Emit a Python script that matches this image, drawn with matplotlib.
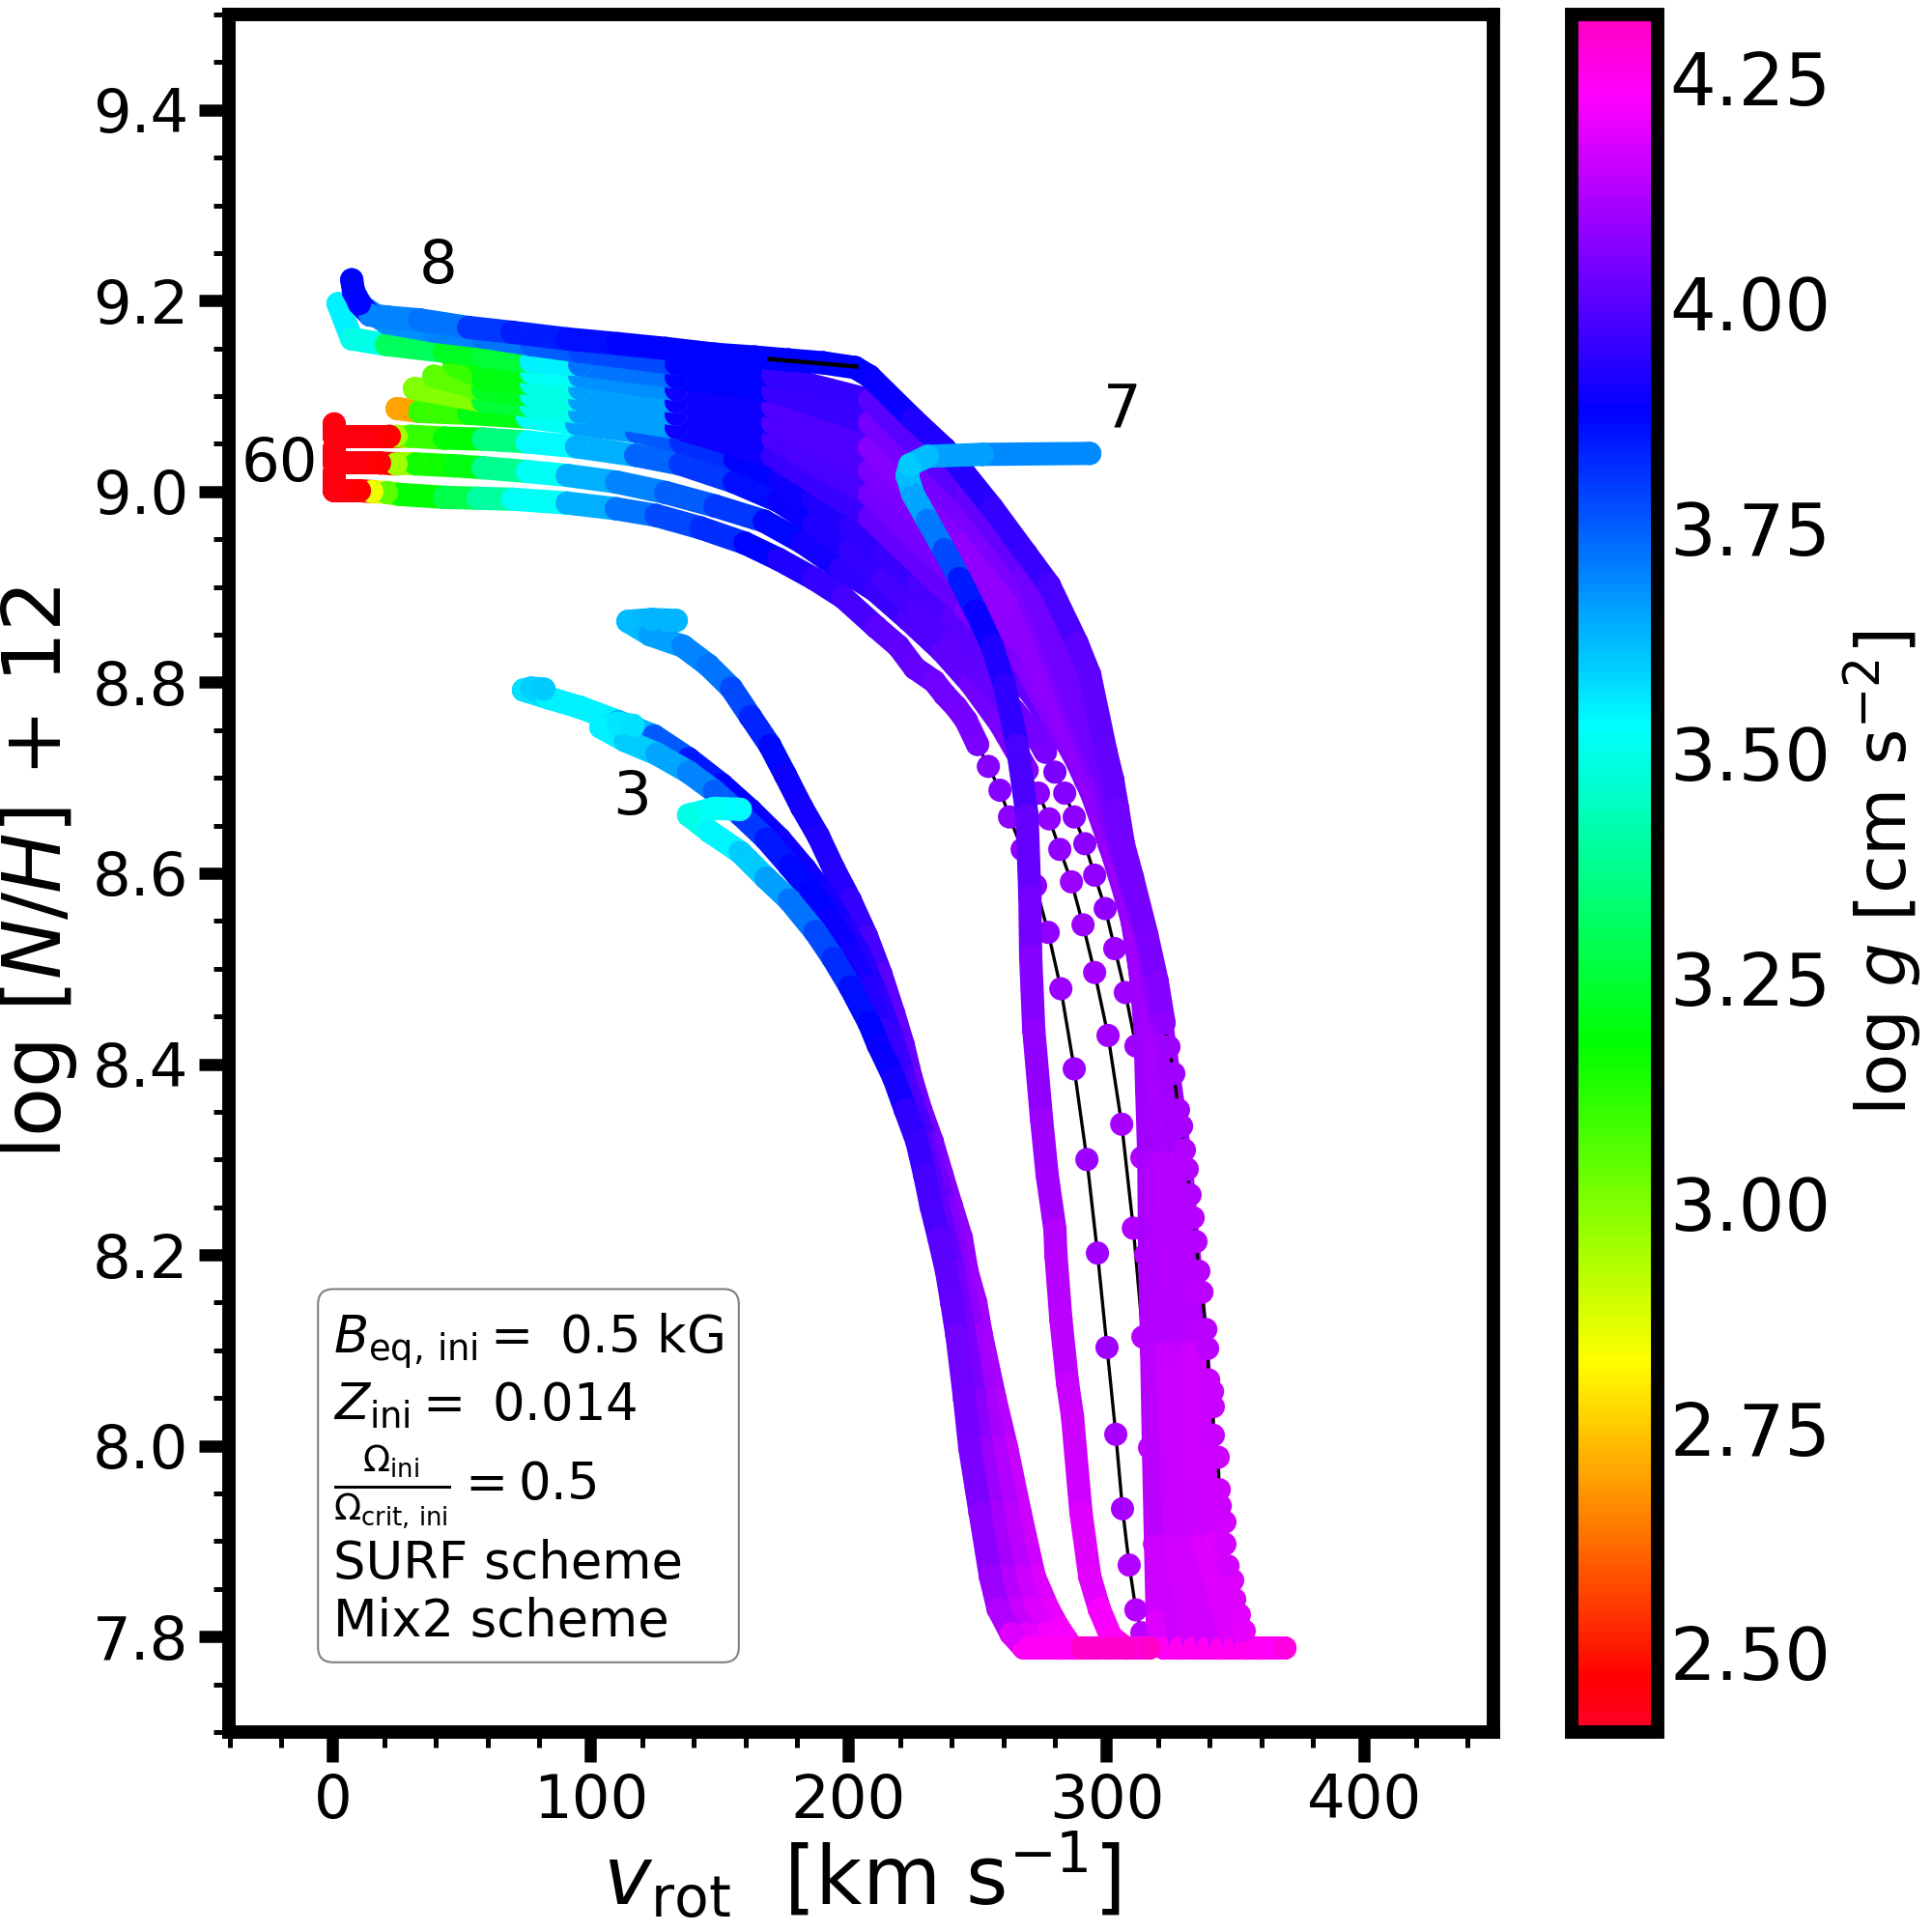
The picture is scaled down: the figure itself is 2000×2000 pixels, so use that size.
import numpy as np
import matplotlib
matplotlib.use("Agg")
import matplotlib.pyplot as plt
from matplotlib.collections import LineCollection
from matplotlib.colors import Normalize
from matplotlib.cm import ScalarMappable
from matplotlib.ticker import MultipleLocator, FormatStrFormatter

# ---- evolutionary tracks: rotation velocity, log[N/H]+12, log g ----
v_d1 = [315.6,313.7,311.4,308.8,306.2,303.6,300.2,296.5,292.4,287.5,282.3,277.4,272.5,267.3,262.4,258.7,254.2,250,245.6,241.8,237.3,233.2,225.7,219.3,210.7,198,186.4,172.9,159.8,142.6,125.4,110,90.9,69.9,56.4,43.3,26.1,20.9,15.2,10.4,0.6,0.6]
n_d1 = [7.788,7.804,7.828,7.875,7.934,8.012,8.103,8.202,8.300,8.395,8.479,8.538,8.587,8.625,8.659,8.687,8.712,8.735,8.760,8.774,8.787,8.801,8.815,8.838,8.858,8.889,8.909,8.929,8.946,8.962,8.975,8.982,8.988,8.992,8.993,8.994,8.997,8.999,9.000,9.001,9.001,9.020]
g_d1 = [4.20,4.14,4.13,4.12,4.11,4.11,4.10,4.10,4.09,4.09,4.09,4.08,4.08,4.08,4.07,4.06,4.06,4.05,4.04,4.04,4.03,4.03,4.02,4.01,4.00,3.97,3.95,3.92,3.88,3.82,3.78,3.72,3.64,3.52,3.40,3.28,3.18,3.05,2.85,2.47,2.45,2.45]

v_d2 = [322.3,320.4,318.6,316.7,314.1,310.4,305.9,300.6,295.4,290.9,286.4,281.9,277.8,273.6,269.2,258.7,247.4,236.2,223.1,210,196.9,181.9,167.3,148.2,129.1,110,90.9,75.5,58.3,47.1,32.1,24.6,18.2,0.6,0.6]
n_d2 = [7.788,7.846,7.897,7.998,8.114,8.228,8.337,8.430,8.496,8.546,8.591,8.625,8.657,8.684,8.708,8.757,8.799,8.833,8.866,8.897,8.919,8.947,8.969,8.985,8.999,9.010,9.017,9.021,9.025,9.027,9.029,9.029,9.030,9.030,9.045]
g_d2 = [4.25,4.20,4.16,4.14,4.13,4.12,4.11,4.10,4.10,4.09,4.09,4.08,4.08,4.07,4.07,4.05,4.03,4.01,3.99,3.96,3.94,3.91,3.87,3.80,3.75,3.70,3.64,3.52,3.38,3.20,3.15,2.95,2.47,2.45,2.45]

v_d3 = [326.1,322.3,319.7,317.5,315.2,313.7,311.4,307.3,303.2,299.5,295.4,291.6,287.5,283.8,280,276.3,272.5,264.3,253,239.9,226.8,213.7,200.6,186.4,172.9,155.7,134.7,117.5,94.6,75.5,58.3,43.3,30.2,24.6,22,0.6,0.6]
n_d3 = [7.788,7.897,7.998,8.099,8.200,8.302,8.419,8.475,8.521,8.563,8.598,8.631,8.659,8.684,8.706,8.727,8.745,8.770,8.803,8.841,8.876,8.909,8.939,8.966,8.990,9.010,9.029,9.038,9.047,9.052,9.055,9.056,9.058,9.058,9.058,9.058,9.071]
g_d3 = [4.27,4.17,4.15,4.14,4.13,4.12,4.10,4.09,4.09,4.08,4.08,4.07,4.07,4.06,4.05,4.05,4.04,4.03,4.02,4.01,3.99,3.97,3.95,3.92,3.89,3.86,3.80,3.74,3.64,3.53,3.35,3.18,3.10,2.95,2.47,2.45,2.45]

v_f1 = [329.8,322.3,319.7,319,318.2,317.5,316.7,316.4,315.6,314.9,313,310,305.6,301.1,297,291.8,286.9,278.3,268.9,253.2,240.1,227,213.9,200.8,186.6,173.1,155.9,135,117.8,94.6,75.5,52.8,33.6,25]
n_f1 = [7.788,7.788,7.816,7.897,7.998,8.099,8.200,8.302,8.372,8.439,8.498,8.549,8.596,8.630,8.668,8.698,8.727,8.762,8.795,8.833,8.868,8.903,8.934,8.963,8.991,9.014,9.034,9.052,9.063,9.071,9.078,9.082,9.084,9.087]
g_f1 = [4.27,4.24,4.18,4.16,4.14,4.13,4.12,4.11,4.10,4.09,4.09,4.08,4.07,4.07,4.06,4.05,4.04,4.03,4.02,4.01,4.0,3.98,3.96,3.94,3.92,3.90,3.88,3.82,3.76,3.66,3.52,3.2,3.1,2.7]

v_f2 = [337.2,328.7,322.7,320.4,318.6,315.9,310.4,301.3,292.4,268.8,245.5,208.1,170.6,133.2,95.8,77,58.3,31.7]
n_f2 = [7.788,7.788,7.897,8.099,8.302,8.439,8.549,8.630,8.698,8.816,8.877,8.973,9.037,9.067,9.083,9.090,9.095,9.108]
g_f2 = [4.28,4.25,4.16,4.14,4.12,4.10,4.09,4.08,4.07,4.06,4.05,4.02,3.96,3.90,3.66,3.5,3.25,3.0]

v_f3 = [342.9,334,326.4,323.4,320.8,317,311.1,302.1,293.5,268.8,245.5,208.1,170.6,133.2,95.8,77,58.3,39.2]
n_f3 = [7.788,7.788,7.897,8.099,8.302,8.439,8.549,8.630,8.698,8.836,8.901,8.997,9.055,9.081,9.096,9.101,9.107,9.121]
g_f3 = [4.28,4.25,4.17,4.15,4.12,4.10,4.09,4.08,4.08,4.07,4.07,4.04,3.98,3.90,3.66,3.5,3.22,3.05]

v_f4 = [348.5,339.2,330.2,326.4,323.1,318.2,311.9,302.8,294.6,268.8,245.5,208.1,170.6,133.2,95.8,77,58.3,47.1]
n_f4 = [7.788,7.788,7.897,8.099,8.302,8.439,8.549,8.630,8.698,8.855,8.925,9.022,9.072,9.094,9.108,9.113,9.118,9.133]
g_f4 = [4.28,4.25,4.17,4.15,4.13,4.11,4.10,4.09,4.08,4.08,4.08,4.05,3.99,3.90,3.66,3.5,3.2,3.1]

v_f5 = [354.1,344.5,333.9,329.4,324.9,319.3,312.6,303.6,296.1,268.8,245.5,208.1,170.6,133.2,95.8,77,58.3,54.6]
n_f5 = [7.788,7.788,7.897,8.099,8.302,8.439,8.549,8.630,8.698,8.875,8.948,9.046,9.089,9.107,9.121,9.125,9.130,9.140]
g_f5 = [4.28,4.25,4.17,4.15,4.13,4.11,4.10,4.09,4.07,4.07,4.08,4.06,3.99,3.90,3.68,3.52,3.2,3.15]

v_f6 = [359.7,349.7,337.6,332.4,326.8,320.4,313.3,304.3,298,268.8,245.5,208.1,170.6,133.2,95.8,77,58.3,43.3,20.9,7.4,2.1]
n_f6 = [7.788,7.788,7.897,8.099,8.302,8.439,8.549,8.630,8.698,8.896,8.973,9.072,9.105,9.120,9.133,9.136,9.142,9.147,9.154,9.160,9.197]
g_f6 = [4.28,4.25,4.18,4.16,4.13,4.11,4.09,4.07,4.06,4.05,4.05,4.04,3.96,3.88,3.72,3.55,3.25,3.22,3.3,3.5,3.55]

v_f7 = [365.3,354.2,341,335.4,328.7,321.6,314.1,305.1,299.9,268.8,245.5,208.1,170.6,133.2,95.8,77,58.3,39.6,20.9,11.5,8.1]
n_f7 = [7.788,7.788,7.897,8.099,8.302,8.439,8.549,8.630,8.698,8.915,8.996,9.096,9.122,9.134,9.147,9.154,9.162,9.168,9.177,9.194,9.209]
g_f7 = [4.28,4.25,4.18,4.16,4.13,4.10,4.08,4.05,4.04,4.03,4.02,4.0,3.95,3.88,3.78,3.75,3.72,3.7,3.68,3.7,3.75]

v_f8 = [369.2,359,353.4,351.5,349.7,348.9,347.1,345.9,345.9,344.1,343.7,343.3,341.4,341.4,341.1,339.6,339.2,338.5,337,335.8,334.7,333.6,332.4,331.3,330.2,329.1,327.9,326.1,324.2,322.3,319.7,315.6,310,306.6,304.3,302.4,299.8,293.5,288.6,277.8,268.8,255.7,237.3,225,208.1,202.5,190.1,176.7,163.6,148.2,129.1,110.7,90.9,69.5,52.7,33.6,20.9,14.5,10.4,8.1,7.4]
n_f8 = [7.788,7.788,7.806,7.823,7.839,7.859,7.874,7.897,7.920,7.937,7.954,7.988,8.011,8.041,8.057,8.069,8.102,8.122,8.161,8.183,8.214,8.239,8.263,8.290,8.310,8.335,8.352,8.390,8.418,8.443,8.486,8.536,8.596,8.630,8.668,8.698,8.727,8.808,8.841,8.902,8.935,8.983,9.045,9.076,9.121,9.130,9.135,9.138,9.141,9.144,9.150,9.155,9.160,9.167,9.172,9.180,9.183,9.185,9.197,9.210,9.222]
g_f8 = [4.27,4.24,4.20,4.19,4.18,4.18,4.17,4.17,4.17,4.16,4.16,4.16,4.15,4.15,4.15,4.15,4.14,4.14,4.14,4.13,4.13,4.13,4.12,4.12,4.12,4.11,4.11,4.10,4.09,4.08,4.06,4.05,4.04,4.04,4.03,4.02,4.02,4.01,4.0,3.98,3.96,3.95,3.93,3.92,3.89,3.88,3.88,3.88,3.88,3.88,3.88,3.88,3.86,3.84,3.80,3.72,3.70,3.70,3.88,3.88,3.88]

v_m7 = [316.7,307.4,301.7,297.2,293.5,290.1,286.8,284.9,282.3,280.4,280,277,274.8,271.8,270.6,270.3,269.2,265.4,260.5,255.7,249.3,243,237,230.6,225,222.7,223.8,230.6,251.9,293.5]
n_m7 = [7.788,7.788,7.800,7.829,7.863,7.930,8.031,8.066,8.133,8.200,8.227,8.284,8.343,8.436,8.513,8.575,8.661,8.734,8.797,8.838,8.875,8.909,8.939,8.970,8.997,9.017,9.028,9.037,9.039,9.040]
g_m7 = [4.30,4.27,4.24,4.22,4.19,4.18,4.16,4.15,4.14,4.13,4.12,4.10,4.09,4.08,4.06,4.04,4.02,3.98,3.94,3.92,3.89,3.85,3.78,3.71,3.65,3.62,3.60,3.62,3.66,3.69]

v_l4 = [307.4,286.8,281.5,277.4,272,266.5,261.3,256.8,251.5,249.3,245.9,243.7,239.9,236.2,232.4,228,224.2,221.2,217.5,212.6,207,200.6,194.2,188.3,181.9,175.5,169.5,162,154.6,145.6,135.8,123.1,114.5,123.8,133.2]
n_l4 = [7.788,7.788,7.809,7.829,7.863,7.930,7.998,8.049,8.116,8.150,8.183,8.218,8.251,8.284,8.319,8.352,8.386,8.420,8.453,8.494,8.534,8.572,8.605,8.639,8.669,8.703,8.734,8.764,8.794,8.818,8.838,8.850,8.864,8.866,8.865]
g_l4 = [4.30,4.26,4.22,4.20,4.18,4.16,4.15,4.13,4.11,4.10,4.09,4.08,4.07,4.06,4.05,4.04,4.03,4.02,4.01,4.00,3.97,3.95,3.93,3.92,3.91,3.90,3.87,3.83,3.78,3.72,3.70,3.66,3.62,3.63,3.63]

v_l2 = [301.7,281,276,271,266.5,261.7,256.8,253,248.5,243.3,237.3,230,221.6,216.7,210.7,204.4,198,190.5,183,173.3,162,150.8,138,124.6,110.7,95.8,83.4,74,77,81.9]
n_l2 = [7.788,7.788,7.803,7.829,7.863,7.930,7.998,8.049,8.116,8.183,8.251,8.319,8.386,8.430,8.474,8.514,8.544,8.578,8.605,8.636,8.666,8.693,8.720,8.744,8.759,8.774,8.784,8.792,8.794,8.793]
g_l2 = [4.30,4.25,4.22,4.18,4.16,4.14,4.12,4.11,4.10,4.08,4.06,4.03,3.99,3.96,3.94,3.93,3.92,3.91,3.90,3.90,3.89,3.88,3.85,3.76,3.63,3.55,3.55,3.57,3.59,3.60]

v_l3 = [296,273.6,268.8,263.5,260.5,256,251.5,249,245,240.7,234.7,228.3,219.3,213,207,200.6,193,185.6,177,168,158.3,148,138,125.7,113.4,104,110.7,116.4]
n_l3 = [7.788,7.788,7.803,7.829,7.863,7.930,7.998,8.049,8.116,8.183,8.251,8.319,8.386,8.436,8.481,8.517,8.552,8.580,8.608,8.636,8.661,8.686,8.706,8.725,8.739,8.753,8.757,8.755]
g_l3 = [4.30,4.24,4.20,4.15,4.13,4.11,4.09,4.07,4.05,4.04,4.02,4.0,3.97,3.95,3.93,3.91,3.89,3.88,3.87,3.85,3.80,3.75,3.70,3.65,3.60,3.55,3.56,3.57]

v_t3 = [290.5,268,263,258,255,251,247,245,242,240,238,235,232,229.5,226.5,222,217.5,211.5,208,200.6,194,187,177,168,158,146,138,148,158]
n_t3 = [7.788,7.788,7.803,7.829,7.863,7.930,7.998,8.049,8.116,8.150,8.183,8.218,8.251,8.284,8.319,8.352,8.386,8.420,8.443,8.481,8.511,8.539,8.572,8.595,8.622,8.644,8.661,8.668,8.667]
g_t3 = [4.30,4.24,4.18,4.12,4.09,4.07,4.05,4.04,4.03,4.02,4.01,4.00,3.98,3.97,3.96,3.94,3.91,3.89,3.88,3.86,3.82,3.78,3.72,3.66,3.60,3.54,3.50,3.52,3.53]

v_black = [169.2, 203.0]
n_black = [9.139, 9.131]

mass_labels = ["8", "7", "60", "3"]
mass_label_v = [41, 306, -20.5, 116]
mass_label_n = [9.236, 9.084, 9.028, 8.679]

cbar_ticks = [2.50, 2.75, 3.00, 3.25, 3.50, 3.75, 4.00, 4.25]
info_text = ("$B_{\\rm eq,\\, ini} = $ 0.5 kG\n$Z_{\\rm ini} = $ 0.014\n"
             "$\\frac{\\Omega_{\\rm ini}}{\\Omega_{\\rm crit,\\, ini}} = 0.5$\n"
             "SURF scheme\nMix2 scheme")

# ---- figure ----
fig = plt.figure(figsize=(20, 20), dpi=100)
ax = fig.add_axes([237/2000, 207/2000, 1309/2000, 1778/2000])
cax = fig.add_axes([1627/2000, 207/2000, 89/2000, 1778/2000])

norm = Normalize(vmin=2.412, vmax=4.32)
cmap = plt.get_cmap("gist_rainbow")
WIDTH = 17.3

def draw_track(v, n, g, z, dots=(0, 0)):
    """Thick line between read points, except a dotted stretch with a thin black line."""
    v, n, g = np.asarray(v, float), np.asarray(n, float), np.asarray(g, float)
    pts = np.column_stack([v, n])
    segs = [pts[i:i+2] for i in range(len(pts)-1) if not (dots[0] <= i < dots[1])]
    cols = [cmap(norm(g[i+1])) for i in range(len(pts)-1) if not (dots[0] <= i < dots[1])]
    if dots[1] > dots[0]:
        ax.plot(v[dots[0]:dots[1]+1], n[dots[0]:dots[1]+1], color="k", lw=2.4, zorder=z)
    lc = LineCollection(segs, colors=cols, linewidths=WIDTH, capstyle="round", zorder=z+0.1)
    ax.add_collection(lc)
    ax.scatter(v, n, c=g, cmap=cmap, norm=norm, s=WIDTH**2, linewidths=0, zorder=z+0.2)

draw_track(v_d1, n_d1, g_d1, 2, dots=(0, 17))
draw_track(v_d2, n_d2, g_d2, 3, dots=(0, 14))
draw_track(v_d3, n_d3, g_d3, 4, dots=(0, 15))
draw_track(v_f1, n_f1, g_f1, 5)
draw_track(v_f2, n_f2, g_f2, 6)
draw_track(v_f3, n_f3, g_f3, 7)
draw_track(v_f4, n_f4, g_f4, 8)
draw_track(v_f5, n_f5, g_f5, 9)
draw_track(v_f6, n_f6, g_f6, 10)
draw_track(v_f7, n_f7, g_f7, 11)
draw_track(v_f8, n_f8, g_f8, 12, dots=(1, 29))
ax.plot(v_black, n_black, color="k", lw=3.2, zorder=12.5)
draw_track(v_m7, n_m7, g_m7, 13)
draw_track(v_l4, n_l4, g_l4, 14)
draw_track(v_l2, n_l2, g_l2, 15)
draw_track(v_l3, n_l3, g_l3, 16)
draw_track(v_t3, n_t3, g_t3, 17)

for s, xv, yv in zip(mass_labels, mass_label_v, mass_label_n):
    ax.text(xv, yv, s, fontsize=45, ha="center", va="center", zorder=20)

ax.text((345-237)/1309, (1793-1705)/1778, info_text, transform=ax.transAxes,
        fontsize=38, ha="left", va="bottom", zorder=25,
        bbox=dict(boxstyle="round", facecolor="white", edgecolor="gray", linewidth=1.5))

ax.set_xlim(-40.2, 450)
ax.set_ylim(7.7, 9.5)
ax.xaxis.set_major_locator(MultipleLocator(100))
ax.xaxis.set_minor_locator(MultipleLocator(20))
ax.yaxis.set_major_locator(MultipleLocator(0.2))
ax.yaxis.set_minor_locator(MultipleLocator(0.05))
ax.yaxis.set_major_formatter(FormatStrFormatter("%.1f"))
ax.tick_params(which="major", length=22, width=9, labelsize=45, pad=8)
ax.tick_params(which="minor", length=11.5, width=3.6)
for sp in ax.spines.values():
    sp.set_linewidth(10)
ax.set_xlabel(r"$v_{\rm rot}$  [km s$^{-1}$]", fontsize=60, labelpad=0)
ax.set_ylabel(r"log [$N/H$] + 12", fontsize=60, labelpad=10)

cb = fig.colorbar(ScalarMappable(norm=norm, cmap=cmap), cax=cax)
cb.set_ticks(cbar_ticks)
cb.ax.set_yticklabels(["%.2f" % t for t in cbar_ticks])
cb.ax.tick_params(length=0, labelsize=54, pad=9)
cb.outline.set_linewidth(10)
cb.set_label(r"log $g$ [cm s$^{-2}$]", fontsize=52, labelpad=8)

fig.savefig("out.png", dpi=100)
